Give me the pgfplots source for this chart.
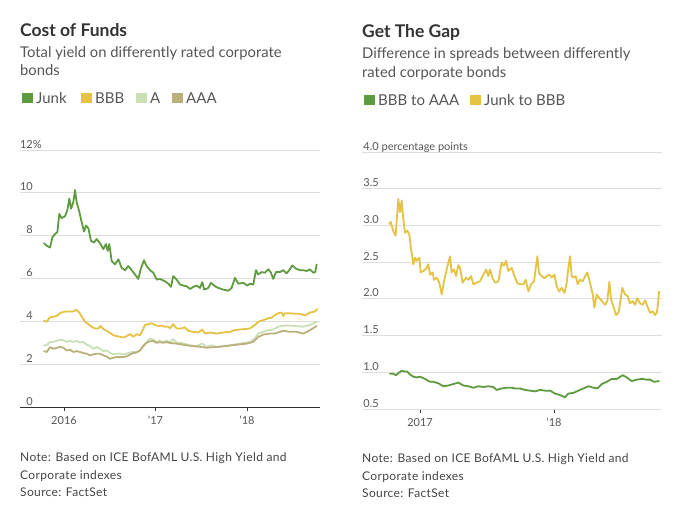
\documentclass[border=0pt]{standalone}
\usepackage{pgfplots}
\pgfplotsset{compat=1.18}
\usepackage{fontspec}
\setmainfont{Lato}
\newfontfamily\notefont{Lato}[LetterSpace=3]
\definecolor{junk}{HTML}{5E9B3F}
\definecolor{bbb}{HTML}{E5C243}
\definecolor{acol}{HTML}{C9DFB6}
\definecolor{aaa}{HTML}{BAB07C}
\definecolor{gridc}{HTML}{DDDDDD}
\definecolor{axisc}{HTML}{333333}
\definecolor{titlec}{HTML}{333333}
\definecolor{subc}{HTML}{555555}
\definecolor{tickc}{HTML}{555555}
\definecolor{notec}{HTML}{444444}
\pgfplotsset{
  wsj/.style={
    scale only axis, width=300pt, height=257pt,
    axis x line*=bottom, axis y line*=left,
    y axis line style={draw=none},
    ymajorgrids, grid style={draw=gridc, line width=0.8pt},
    tick align=outside, major tick length=3.5pt,
    xtick style={draw=axisc, line width=0.8pt},
    ytick style={draw=none},
    ticklabel style={font=\fontsize{11}{13}\selectfont, text=tickc},
    xticklabel style={anchor=base, inner sep=0pt, yshift=-13.5pt},
    /pgf/number format/assume math mode=true,
    clip=false,
    every axis plot/.append style={line width=1.8pt, line join=round, line cap=round, no markers},
  }
}
\begin{document}
\begin{tikzpicture}
\path[use as bounding box] (0pt,0pt) rectangle (680pt,-515pt);
\tikzset{tt/.style={anchor=base west, inner sep=0pt, text=titlec, font=\fontsize{17.5}{20}\selectfont\bfseries},
  st/.style={anchor=base west, inner sep=0pt, text=subc, font=\fontsize{14.8}{18}\selectfont},
  lg/.style={anchor=base west, inner sep=0pt, text=subc, font=\fontsize{15}{18}\selectfont},
  nt/.style={anchor=base west, inner sep=0pt, text=notec, font=\notefont\fontsize{12}{14}\selectfont}}
% left header
\node[tt] at (20pt,-36pt) {Cost of Funds};
\node[st] at (20pt,-57pt) {Total yield on differently rated corporate};
\node[st] at (20pt,-75pt) {bonds};
\node[lg] at (22pt,-103pt) {\textcolor{junk}{\rule{10.5pt}{10.5pt}}\hspace{3.5pt}Junk};
\node[lg] at (81pt,-103pt) {\textcolor{bbb}{\rule{10.5pt}{10.5pt}}\hspace{3.5pt}BBB};
\node[lg] at (136pt,-103pt) {\textcolor{acol}{\rule{10.5pt}{10.5pt}}\hspace{3.5pt}A};
\node[lg] at (172pt,-103pt) {\textcolor{aaa}{\rule{10.5pt}{10.5pt}}\hspace{3.5pt}AAA};
% right header
\node[tt] at (362pt,-37pt) {Get The Gap};
\node[st] at (362pt,-58pt) {Difference in spreads between differently};
\node[st] at (362pt,-77pt) {rated corporate bonds};
\node[lg] at (364pt,-105pt) {\textcolor{junk}{\rule{10.5pt}{10.5pt}}\hspace{3.5pt}BBB to AAA};
\node[lg] at (470pt,-105pt) {\textcolor{bbb}{\rule{10.5pt}{10.5pt}}\hspace{3.5pt}Junk to BBB};
% notes
\node[nt] at (20pt,-461pt) {Note: Based on ICE BofAML U.S. High Yield and};
\node[nt] at (20pt,-479pt) {Corporate indexes};
\node[nt] at (20pt,-496pt) {Source: FactSet};
\node[nt] at (362pt,-462pt) {Note: Based on ICE BofAML U.S. High Yield and};
\node[nt] at (362pt,-480pt) {Corporate indexes};
\node[nt] at (362pt,-497pt) {Source: FactSet};

\begin{axis}[wsj,
  at={(20pt,-407pt)}, anchor=south west,
  xmin=2015.519, xmax=2018.798, ymin=0, ymax=12,
  x axis line style={draw=axisc, line width=0.9pt},
  xtick={2016,2017,2018}, xticklabels={2016,'17,'18},
  ytick={0,2,4,6,8,10,12}, yticklabels={0,2,4,6,8,10,12\rlap{\%}},
  yticklabel style={anchor=base east, inner sep=0pt, xshift=16.5pt, yshift=2pt},
]
\addplot[acol] coordinates {
(2015.781,2.88)(2015.811,2.88)(2015.847,3.04)(2015.883,3.04)(2015.920,3.09)(2015.956,3.15)(2015.993,3.12)
(2016.029,3.04)(2016.066,3.09)(2016.102,3.04)(2016.138,3.09)(2016.175,3.01)(2016.211,3.04)(2016.248,2.91)
(2016.284,2.85)(2016.320,2.72)(2016.357,2.80)(2016.393,2.72)(2016.430,2.61)(2016.466,2.64)(2016.503,2.52)
(2016.539,2.46)(2016.576,2.49)(2016.612,2.49)(2016.648,2.46)(2016.685,2.49)(2016.740,2.57)(2016.794,2.57)
(2016.831,2.64)(2016.867,2.88)(2016.903,3.04)(2016.940,3.20)(2016.976,3.15)(2017.013,3.04)(2017.049,3.09)
(2017.085,3.04)(2017.122,3.09)(2017.158,3.04)(2017.194,3.17)(2017.231,2.99)(2017.285,2.99)(2017.340,2.93)
(2017.395,2.85)(2017.449,2.85)(2017.511,2.96)(2017.559,2.80)(2017.613,2.88)(2017.668,2.80)(2017.741,2.85)
(2017.814,2.88)(2017.887,2.93)(2017.960,2.99)(2018.032,3.04)(2018.087,3.20)(2018.123,3.43)(2018.178,3.51)
(2018.233,3.59)(2018.287,3.62)(2018.342,3.75)(2018.397,3.80)(2018.470,3.80)(2018.543,3.78)(2018.615,3.75)
(2018.688,3.83)(2018.761,3.98)};
\addplot[aaa] coordinates {
(2015.781,2.61)(2015.811,2.57)(2015.847,2.80)(2015.883,2.72)(2015.920,2.76)(2015.956,2.80)(2015.993,2.77)
(2016.029,2.64)(2016.066,2.68)(2016.102,2.57)(2016.138,2.61)(2016.175,2.57)(2016.211,2.52)(2016.248,2.49)
(2016.284,2.41)(2016.320,2.46)(2016.357,2.49)(2016.393,2.49)(2016.430,2.41)(2016.466,2.36)(2016.503,2.25)
(2016.539,2.30)(2016.576,2.33)(2016.612,2.33)(2016.648,2.33)(2016.685,2.36)(2016.740,2.49)(2016.794,2.55)
(2016.831,2.64)(2016.867,2.84)(2016.903,3.00)(2016.940,3.07)(2016.976,3.08)(2017.013,3.00)(2017.049,3.03)
(2017.085,3.00)(2017.122,3.03)(2017.158,2.99)(2017.231,2.96)(2017.340,2.88)(2017.449,2.83)(2017.559,2.77)
(2017.668,2.80)(2017.777,2.85)(2017.887,2.91)(2017.996,2.96)(2018.069,3.04)(2018.123,3.27)(2018.178,3.38)
(2018.251,3.43)(2018.306,3.43)(2018.360,3.51)(2018.397,3.56)(2018.470,3.51)(2018.543,3.51)(2018.615,3.43)
(2018.688,3.59)(2018.761,3.78)};
\addplot[bbb] coordinates {
(2015.781,4.03)(2015.811,3.98)(2015.847,4.19)(2015.883,4.22)(2015.920,4.25)(2015.956,4.38)(2015.993,4.44)
(2016.029,4.46)(2016.066,4.46)(2016.102,4.46)(2016.131,4.54)(2016.168,4.41)(2016.193,4.22)(2016.230,3.98)
(2016.266,3.87)(2016.302,3.75)(2016.339,3.67)(2016.375,3.67)(2016.401,3.78)(2016.430,3.64)(2016.466,3.56)
(2016.503,3.46)(2016.539,3.35)(2016.576,3.31)(2016.612,3.28)(2016.648,3.24)(2016.685,3.31)(2016.721,3.40)
(2016.758,3.28)(2016.794,3.40)(2016.831,3.35)(2016.860,3.59)(2016.885,3.83)(2016.922,3.87)(2016.958,3.91)
(2016.995,3.83)(2017.031,3.78)(2017.067,3.80)(2017.104,3.75)(2017.140,3.75)(2017.158,3.67)(2017.194,3.87)
(2017.231,3.67)(2017.285,3.67)(2017.322,3.72)(2017.358,3.56)(2017.413,3.51)(2017.468,3.48)(2017.511,3.62)
(2017.540,3.43)(2017.595,3.48)(2017.668,3.43)(2017.741,3.48)(2017.814,3.51)(2017.868,3.59)(2017.923,3.62)
(2017.978,3.64)(2018.032,3.67)(2018.087,3.83)(2018.123,3.98)(2018.178,4.06)(2018.233,4.14)(2018.269,4.17)
(2018.306,4.30)(2018.342,4.38)(2018.378,4.41)(2018.397,4.25)(2018.415,4.38)(2018.470,4.38)(2018.524,4.35)
(2018.579,4.35)(2018.634,4.28)(2018.688,4.41)(2018.743,4.46)(2018.769,4.58)};
\addplot[junk] coordinates {
(2015.781,7.65)(2015.811,7.53)(2015.847,7.45)(2015.873,7.92)(2015.902,8.08)(2015.927,8.16)(2015.949,9.02)
(2015.974,8.82)(2016.011,8.91)(2016.036,9.18)(2016.058,9.73)(2016.077,9.26)(2016.102,9.57)(2016.120,10.13)
(2016.138,9.57)(2016.168,9.10)(2016.193,8.63)(2016.219,8.19)(2016.240,8.47)(2016.266,8.35)(2016.295,7.76)
(2016.328,7.68)(2016.357,7.84)(2016.393,7.65)(2016.430,7.37)(2016.459,7.61)(2016.477,7.29)(2016.495,7.61)
(2016.521,6.82)(2016.557,6.66)(2016.594,6.90)(2016.630,6.50)(2016.667,6.39)(2016.703,6.58)(2016.740,6.39)
(2016.776,6.19)(2016.812,5.98)(2016.838,6.43)(2016.874,6.85)(2016.903,6.58)(2016.940,6.39)(2016.976,6.27)
(2017.013,5.95)(2017.049,5.98)(2017.104,5.87)(2017.140,5.76)(2017.169,5.61)(2017.194,6.11)(2017.231,5.95)
(2017.267,5.72)(2017.304,5.67)(2017.340,5.64)(2017.377,5.51)(2017.413,5.61)(2017.449,5.67)(2017.486,5.56)
(2017.511,5.83)(2017.533,5.48)(2017.577,5.56)(2017.606,5.80)(2017.650,5.64)(2017.686,5.56)(2017.741,5.48)
(2017.796,5.43)(2017.832,5.56)(2017.868,6.03)(2017.905,5.76)(2017.960,5.80)(2018.003,5.67)(2018.032,5.76)
(2018.069,5.72)(2018.098,6.39)(2018.123,6.19)(2018.160,6.30)(2018.196,6.27)(2018.233,6.43)(2018.262,6.27)
(2018.287,5.98)(2018.317,6.30)(2018.360,6.30)(2018.397,6.39)(2018.433,6.24)(2018.462,6.39)(2018.495,6.61)
(2018.535,6.46)(2018.579,6.39)(2018.615,6.39)(2018.652,6.35)(2018.688,6.43)(2018.725,6.27)(2018.746,6.30)
(2018.761,6.65)};
\end{axis}

\begin{axis}[wsj,
  at={(362pt,-409pt)}, anchor=south west,
  xmin=2016.567, xmax=2018.806, ymin=0.5, ymax=4,
  x axis line style={draw=gridc, line width=0.8pt},
  xtick={2017,2018}, xticklabels={2017,'18},
  ytick={0.5,1.0,1.5,2.0,2.5,3.0,3.5,4.0},
  yticklabels={0.5,1.0,1.5,2.0,2.5,3.0,3.5,4.0\rlap{ percentage points}},
  yticklabel style={anchor=base east, inner sep=0pt, xshift=20.5pt, yshift=2pt},
]
\addplot[junk] coordinates {
(2016.776,0.98)(2016.801,0.98)(2016.821,0.96)(2016.838,0.99)(2016.863,1.02)(2016.888,1.01)(2016.905,1.01)
(2016.925,0.97)(2016.950,0.94)(2016.975,0.93)(2017.000,0.94)(2017.037,0.91)(2017.075,0.87)(2017.100,0.87)
(2017.137,0.85)(2017.174,0.81)(2017.211,0.82)(2017.249,0.84)(2017.286,0.86)(2017.323,0.82)(2017.361,0.81)
(2017.398,0.79)(2017.435,0.81)(2017.473,0.80)(2017.510,0.81)(2017.547,0.80)(2017.572,0.76)(2017.609,0.78)
(2017.647,0.79)(2017.684,0.79)(2017.709,0.78)(2017.747,0.78)(2017.784,0.76)(2017.821,0.75)(2017.859,0.74)
(2017.896,0.76)(2017.933,0.75)(2017.971,0.75)(2018.008,0.71)(2018.045,0.69)(2018.082,0.66)(2018.107,0.71)
(2018.145,0.72)(2018.182,0.75)(2018.219,0.78)(2018.257,0.81)(2018.294,0.79)(2018.324,0.78)(2018.356,0.84)
(2018.393,0.87)(2018.431,0.91)(2018.468,0.91)(2018.513,0.96)(2018.543,0.93)(2018.580,0.88)(2018.617,0.90)
(2018.655,0.91)(2018.692,0.90)(2018.717,0.90)(2018.747,0.87)(2018.784,0.88)};
\addplot[bbb] coordinates {
(2016.771,3.02)(2016.781,3.05)(2016.794,2.96)(2016.806,2.90)(2016.818,2.86)(2016.831,3.18)(2016.838,3.36)
(2016.851,3.18)(2016.863,3.34)(2016.876,3.07)(2016.888,2.90)(2016.905,2.93)(2016.920,2.88)(2016.930,2.72)
(2016.943,2.56)(2016.950,2.47)(2016.963,2.56)(2016.975,2.52)(2016.995,2.56)(2017.005,2.36)(2017.025,2.38)
(2017.045,2.41)(2017.062,2.47)(2017.075,2.33)(2017.095,2.36)(2017.104,2.26)(2017.124,2.29)(2017.144,2.22)
(2017.162,2.06)(2017.179,2.24)(2017.194,2.36)(2017.211,2.49)(2017.224,2.58)(2017.236,2.36)(2017.254,2.40)
(2017.269,2.31)(2017.286,2.46)(2017.299,2.42)(2017.318,2.22)(2017.343,2.29)(2017.361,2.26)(2017.381,2.31)
(2017.398,2.20)(2017.423,2.22)(2017.448,2.24)(2017.473,2.33)(2017.493,2.40)(2017.510,2.31)(2017.522,2.40)
(2017.540,2.29)(2017.560,2.22)(2017.585,2.24)(2017.609,2.49)(2017.627,2.45)(2017.642,2.52)(2017.659,2.38)
(2017.684,2.42)(2017.709,2.29)(2017.727,2.21)(2017.747,2.20)(2017.772,2.20)(2017.789,2.26)(2017.809,2.10)
(2017.829,2.20)(2017.851,2.24)(2017.864,2.42)(2017.876,2.58)(2017.888,2.35)(2017.908,2.31)(2017.928,2.28)
(2017.946,2.31)(2017.966,2.33)(2017.983,2.29)(2018.003,2.33)(2018.020,2.17)(2018.040,2.10)(2018.058,2.15)
(2018.078,2.08)(2018.095,2.22)(2018.107,2.42)(2018.120,2.58)(2018.132,2.31)(2018.145,2.29)(2018.162,2.31)
(2018.177,2.20)(2018.194,2.26)(2018.214,2.24)(2018.232,2.31)(2018.249,2.36)(2018.269,2.22)(2018.289,2.06)
(2018.301,1.88)(2018.319,2.06)(2018.339,2.01)(2018.356,1.97)(2018.381,1.92)(2018.398,1.97)(2018.413,2.23)
(2018.426,1.99)(2018.443,1.90)(2018.463,1.78)(2018.481,1.81)(2018.493,1.94)(2018.510,2.15)(2018.530,2.06)
(2018.548,2.04)(2018.568,1.94)(2018.587,1.97)(2018.605,1.92)(2018.622,2.01)(2018.642,1.94)(2018.662,1.92)
(2018.680,1.98)(2018.697,1.90)(2018.717,1.81)(2018.737,1.83)(2018.754,1.78)(2018.767,1.81)(2018.774,1.90)
(2018.784,2.10)};
\end{axis}
\end{tikzpicture}
\end{document}
